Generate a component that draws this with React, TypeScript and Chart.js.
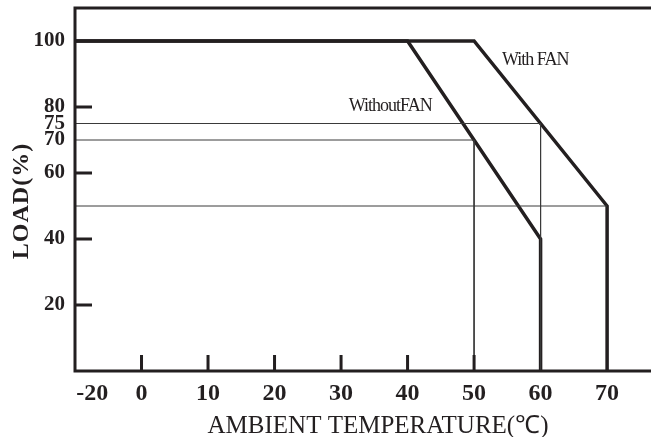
import React, { useEffect, useRef } from "react";
import { Chart, registerables } from "chart.js";

Chart.register(...registerables);

// ---- data ----
const withoutFanX = [-10, 40, 60, 60];
const withoutFanY = [100, 100, 40, 0];
const withFanX = [-10, 50, 70, 70];
const withFanY = [100, 100, 50, 0];
const ref75X = [-10, 60, 60];
const ref75Y = [75, 75, 0];
const ref70X = [-10, 50, 50];
const ref70Y = [70, 70, 0];
const ref50X = [-10, 70];
const ref50Y = [50, 50];

const yTickValues = [20, 40, 60, 70, 75, 80, 100];
const yTickMarks = [20, 40, 60, 80];
const xTickValues = [-7.4, 0, 10, 20, 30, 40, 50, 60, 70];
const xTickLabels = ["-20", "0", "10", "20", "30", "40", "50", "60", "70"];
const xTickMarks = [0, 10, 20, 30, 40, 50];

const xTitle = "AMBIENT TEMPERATURE(℃)";
const yTitle = "LOAD(%)";
const labelWith = { text: "With FAN", x: 59.2, y: 94.3 };
const labelWithout = { text: "WithoutFAN", x: 37.4, y: 80.3 };

const pts = (xs: number[], ys: number[]) => xs.map((x, i) => ({ x, y: ys[i] }));

const SERIF = "'Liberation Serif', 'Times New Roman', serif";

const decorPlugin = {
  id: "decor",
  afterDatasetsDraw(chart: any) {
    const { ctx, chartArea, scales } = chart;
    const xs = scales.x;
    const ys = scales.y;
    ctx.save();
    ctx.strokeStyle = "#231f20";
    ctx.lineWidth = 3;
    ctx.lineCap = "butt";
    // frame: left, bottom, top
    ctx.beginPath();
    ctx.moveTo(chartArea.left, chartArea.top);
    ctx.lineTo(chartArea.right, chartArea.top);
    ctx.moveTo(chartArea.left, chartArea.top - 1.5);
    ctx.lineTo(chartArea.left, chartArea.bottom + 1.5);
    ctx.moveTo(chartArea.left, chartArea.bottom);
    ctx.lineTo(chartArea.right, chartArea.bottom);
    ctx.stroke();
    // inward tick marks
    ctx.beginPath();
    yTickMarks.forEach((v) => {
      const py = ys.getPixelForValue(v);
      ctx.moveTo(chartArea.left, py);
      ctx.lineTo(chartArea.left + 17, py);
    });
    xTickMarks.forEach((v) => {
      const px = xs.getPixelForValue(v);
      ctx.moveTo(px, chartArea.bottom);
      ctx.lineTo(px, chartArea.bottom - 16);
    });
    ctx.stroke();
    // annotations
    ctx.fillStyle = "#231f20";
    ctx.textAlign = "center";
    ctx.textBaseline = "middle";
    ctx.font = `18px ${SERIF}`;
    (ctx as any).letterSpacing = "-1px";
    [labelWith, labelWithout].forEach((l) => {
      ctx.fillText(l.text, xs.getPixelForValue(l.x), ys.getPixelForValue(l.y));
    });
    (ctx as any).letterSpacing = "0px";
    // x title
    ctx.font = `25px ${SERIF}`;
    ctx.textBaseline = "alphabetic";
    ctx.fillText(xTitle, (chartArea.left + chartArea.right) / 2 + 15, 433);
    // y title
    ctx.save();
    ctx.translate(22, 201);
    ctx.rotate(-Math.PI / 2);
    ctx.font = `bold 24px ${SERIF}`;
    (ctx as any).letterSpacing = "1px";
    ctx.textBaseline = "middle";
    ctx.fillText(yTitle, 0, 0);
    ctx.restore();
    ctx.restore();
  },
};

export default function App() {
  const ref = useRef<HTMLCanvasElement | null>(null);
  useEffect(() => {
    if (!ref.current) return;
    const thick = { borderColor: "#231f20", borderWidth: 3.5, pointRadius: 0, tension: 0, fill: false };
    const thin = { borderColor: "#3a3a3a", borderWidth: 1, pointRadius: 0, tension: 0, fill: false };
    const chart = new Chart(ref.current, {
      type: "line",
      data: {
        datasets: [
          { label: "ref75", data: pts(ref75X, ref75Y), ...thin },
          { label: "ref70", data: pts(ref70X, ref70Y), ...thin },
          { label: "ref50", data: pts(ref50X, ref50Y), ...thin },
          { label: "Without FAN", data: pts(withoutFanX, withoutFanY), ...thick },
          { label: "With FAN", data: pts(withFanX, withFanY), ...thick },
        ],
      },
      options: {
        animation: false,
        responsive: false,
        maintainAspectRatio: false,
        layout: { padding: { top: 8, right: 0, left: 0, bottom: 0 } },
        plugins: { legend: { display: false }, tooltip: { enabled: false } },
        scales: {
          x: {
            type: "linear",
            min: -10,
            max: 76.6,
            grid: { display: false, drawTicks: false },
            border: { display: false },
            afterBuildTicks: (s: any) => {
              s.ticks = xTickValues.map((v) => ({ value: v }));
            },
            afterFit: (s: any) => {
              s.height = 66;
              s.paddingLeft = 0;
              s.paddingRight = 0;
            },
            ticks: {
              autoSkip: false,
              maxRotation: 0,
              padding: 8,
              color: "#231f20",
              font: { family: SERIF, size: 24, weight: "bold" },
              callback: (v: any, i: number) => xTickLabels[i],
            },
          },
          y: {
            type: "linear",
            min: 0,
            max: 110,
            grid: { display: false, drawTicks: false },
            border: { display: false },
            afterBuildTicks: (s: any) => {
              s.ticks = yTickValues.map((v) => ({ value: v }));
            },
            afterFit: (s: any) => {
              s.width = 75;
              s.paddingTop = 0;
              s.paddingBottom = 0;
            },
            ticks: {
              autoSkip: false,
              padding: 10,
              color: "#231f20",
              font: { family: SERIF, size: 21, weight: "bold" },
              callback: (v: any) => String(v),
            },
          },
        },
      } as any,
      plugins: [decorPlugin],
    });
    return () => chart.destroy();
  }, []);
  return (
    <div style={{ position: "fixed", left: 0, top: 0, width: 651, height: 437, background: "#fff" }}>
      <canvas ref={ref} width={651} height={437} style={{ display: "block", width: 651, height: 437 }} />
    </div>
  );
}
